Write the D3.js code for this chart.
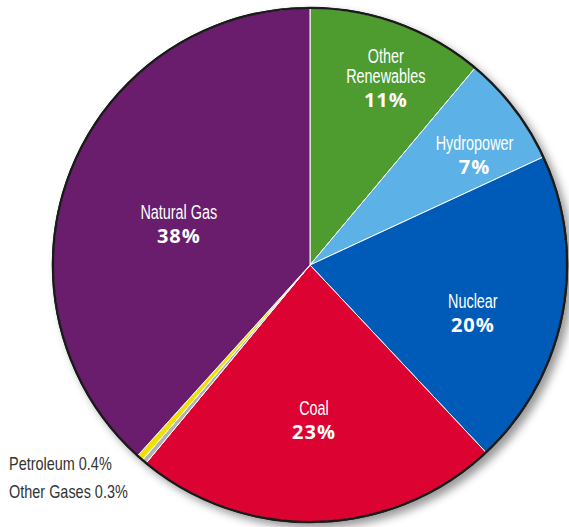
<!DOCTYPE html>
<html>
<head>
<meta charset="utf-8">
<script src="https://cdn.jsdelivr.net/npm/d3@7"></script>
<style>
  html, body { margin: 0; padding: 0; background: #fff; }
  svg { display: block; }
  .name { font-family: "Liberation Sans", Arial, sans-serif; fill: #fff; }
  .pct { font-family: "Open Sans", sans-serif; font-weight: 700; fill: #fff; }
  .side { font-family: "Liberation Sans", Arial, sans-serif; fill: #333; }
</style>
</head>
<body>
<div id="chart"></div>
<script>
// ---- data (clockwise from 12 o'clock) ----
const categories = ["Other Renewables", "Hydropower", "Nuclear", "Coal", "Other Gases", "Petroleum", "Natural Gas"];
const shares     = [11.1, 7.0, 19.9, 23.0, 0.3, 0.4, 38.3];
const pctLabels  = ["11%", "7%", "20%", "23%", "0.3%", "0.4%", "38%"];
const nameLines  = [["Other", "Renewables"], ["Hydropower"], ["Nuclear"], ["Coal"], [], [], ["Natural Gas"]];
const colors     = ["#4e9b2f", "#5cb2e6", "#005bb8", "#dc0332", "#b3b3b3", "#efe000", "#6a1c6d"];
const sideNotes  = ["Petroleum 0.4%", "Other Gases 0.3%"];

// ---- layout ----
const W = 569, H = 527;
const cx = 310, cy = 265, R = 257;
const condense = 0.72;

const svg = d3.select("#chart").append("svg")
  .attr("width", W).attr("height", H);

const defs = svg.append("defs");
const f = defs.append("filter").attr("id", "shadow")
  .attr("x", "-10%").attr("y", "-10%").attr("width", "130%").attr("height", "130%");
f.append("feDropShadow").attr("dx", 5).attr("dy", 5).attr("stdDeviation", 4)
  .attr("flood-color", "#000").attr("flood-opacity", 0.4);

const g = svg.append("g").attr("transform", `translate(${cx},${cy})`);

const data = categories.map((c, i) => ({ name: c, value: shares[i], i }));
const pie = d3.pie().value(d => d.value).sort(null);
const arcs = pie(data);
const arc = d3.arc().innerRadius(0).outerRadius(R);

// outline + shadow
g.append("circle").attr("r", R).attr("fill", "#fff")
  .attr("stroke", "#1a1a1a").attr("stroke-width", 2.5)
  .attr("filter", "url(#shadow)");

g.selectAll("path.slice").data(arcs).join("path")
  .attr("class", "slice")
  .attr("d", arc)
  .attr("fill", d => colors[d.data.i])
  .attr("stroke", "#fff").attr("stroke-width", 1).attr("stroke-linejoin", "round");

// outer black rim on top
g.append("circle").attr("r", R).attr("fill", "none")
  .attr("stroke", "#1a1a1a").attr("stroke-width", 2.2);

function condenseText(sel, ratio) {
  sel.each(function () {
    const w = this.getComputedTextLength();
    d3.select(this).attr("textLength", w * ratio).attr("lengthAdjust", "spacingAndGlyphs");
  });
}

// label placement: radius of percentage baseline and angular nudge (degrees) from slice mid-angle
const labelPlace = { 0: [175, 5.7], 1: [188, 8.5], 2: [176, 11.3], 3: [174, 0.5], 6: [133, -11.6] };

arcs.forEach(a => {
  const p = labelPlace[a.data.i];
  if (!p) return;
  const mid = (a.startAngle + a.endAngle) / 2 + p[1] * Math.PI / 180;
  const x = Math.sin(mid) * p[0];
  const y = -Math.cos(mid) * p[0];
  const lines = nameLines[a.data.i];
  const t = g.append("g");
  t.append("text").attr("class", "pct")
    .attr("x", x).attr("y", y)
    .attr("text-anchor", "middle").attr("font-size", 20)
    .attr("letter-spacing", 1)
    .text(pctLabels[a.data.i]);
  lines.forEach((ln, k) => {
    const fromBottom = lines.length - 1 - k;
    t.append("text").attr("class", "name")
      .attr("x", x).attr("y", y - 24 - fromBottom * 20)
      .attr("text-anchor", "middle").attr("font-size", 20)
      .text(ln)
      .call(condenseText, condense);
  });
});

// small slices noted at left
sideNotes.forEach((s, k) => {
  svg.append("text").attr("class", "side")
    .attr("x", 9).attr("y", 470 + k * 28)
    .attr("font-size", 19)
    .text(s)
    .call(condenseText, 0.76);
});
</script>
</body>
</html>
